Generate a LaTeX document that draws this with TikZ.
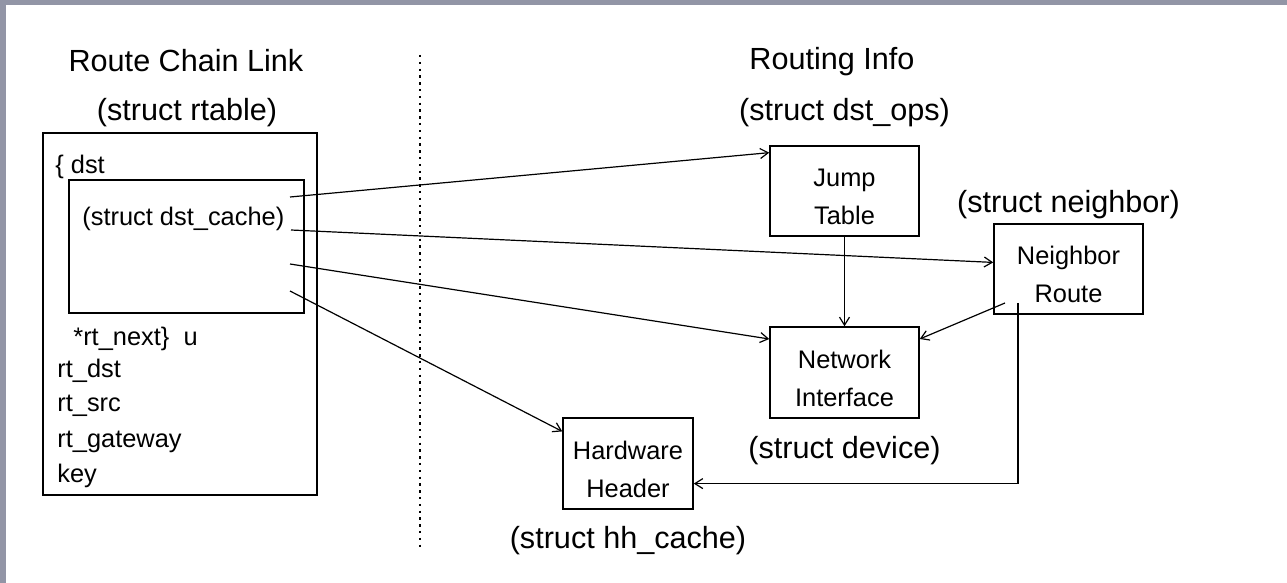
\documentclass[tikz,border=0pt]{standalone}
\usepackage{fontspec}
\setmainfont{Liberation Sans}
\usetikzlibrary{positioning, calc, arrows.meta}
\definecolor{framegray}{RGB}{146,149,166}
\newcommand{\tallline}{\rule{0pt}{15pt}}
\tikzset{box/.style={draw, line width=0.75pt, inner sep=0pt, align=center, font=\fontsize{12.7}{19}\selectfont}}
\tikzset{field/.style={anchor=west, inner sep=0pt, font=\fontsize{12.7}{15}\selectfont}}
\tikzset{title/.style={inner sep=0pt, font=\fontsize{15.3}{18}\selectfont}}
\tikzset{ptr/.style={-{Straight Barb[length=4pt,width=5pt]}, line width=0.6pt}}

\begin{document}
\begin{tikzpicture}[x=0.5pt, y=-0.5pt]
  \useasboundingbox (0,0) rectangle (1287,583);
  \fill[framegray] (0,0) rectangle (1287,5);
  \fill[framegray] (0,0) rectangle (6,583);

  % left side: the route chain link
  \node[title] (chain) at (186,61) {Route Chain Link};
  \node[title] (rtname) at (187,113) {(struct rtable)};
  \node[box, minimum width=137pt, minimum height=181pt] (rtable) at (180,314) {};
  \node[box, minimum width=117.5pt, minimum height=66.5pt] (cache) at (186.5,246.5) {};
  \node[field] (dst) at (55,167) {\{ dst};
  \node[field] (cachename) at (82,219) {(struct dst\_cache)};
  \node[field] (next) at (73,339) {*rt\_next\}~~u};
  \node[field] (rtdst) at (57,371) {rt\_dst};
  \node[field] (rtsrc) at (57,406) {rt\_src};
  \node[field] (rtgw) at (57,442) {rt\_gateway};
  \node[field] (key) at (57,476) {key};

  \draw[dash pattern=on 1.2pt off 2.2pt, line width=0.75pt] (420,55) -- (420,547);

  % right side: the routing info
  \node[title] (routing) at (832,62) {Routing Info};
  \node[box, minimum width=74.5pt, minimum height=45pt,
        label={[title, label distance=9pt]above:(struct dst\_ops)}] (jump) at (844.5,191) {\tallline Jump\\Table};
  \node[box, minimum width=74.5pt, minimum height=45.5pt,
        label={[title, label distance=8.5pt]below:(struct device)}] (net) at (844.5,372.5) {\tallline Network\\Interface};
  \node[box, minimum width=74.5pt, minimum height=45pt,
        label={[title, label distance=2pt]above:(struct neighbor)}] (neighbor) at (1068.5,269) {\tallline Neighbor\\Route};
  \node[box, minimum width=65pt, minimum height=45.5pt,
        label={[title, label distance=8pt]below:(struct hh\_cache)}] (hw) at (628,463.5) {\tallline Hardware\\Header};

  \coordinate (p1) at (290,197);
  \coordinate (p2) at (291,230);
  \coordinate (p3) at (290,264);
  \coordinate (p4) at (290,291);
  \coordinate (n1) at (1005,303);
  \coordinate (n2) at (1018,303);

  \draw[ptr] (p1) -- (jump.153);
  \draw[ptr] (p2) -- (neighbor.175);
  \draw[ptr] (p3) -- (net.156);
  \draw[ptr] (p4) -- (hw.154);
  \draw[ptr] (jump) -- (net);
  \draw[ptr] (n1) -- (net.24);
  \draw[ptr] (n2) |- (hw.-17);
\end{tikzpicture}
\end{document}
